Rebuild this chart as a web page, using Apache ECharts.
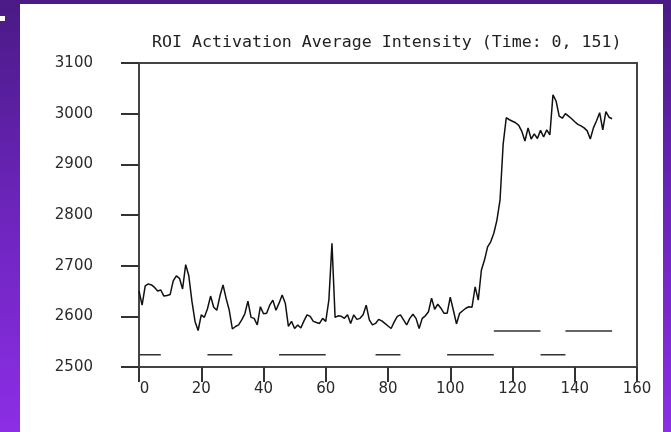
<!DOCTYPE html>
<html>
<head>
<meta charset="utf-8">
<script src="https://cdn.jsdelivr.net/npm/echarts@6/dist/echarts.min.js"></script>
<style>
  html, body { margin: 0; padding: 0; width: 671px; height: 432px; overflow: hidden; }
  body { background: linear-gradient(180deg, #4a1a86 0%, #6a24b8 45%, #8c2ee6 100%); position: relative; }
  #panel { position: absolute; left: 20px; top: 4px; width: 643px; height: 428px; background: #ffffff; }
  #dot { position: absolute; left: 0px; top: 16px; width: 5px; height: 5px; background: #ffffff; }
  #chart { position: absolute; left: 0; top: 0; width: 671px; height: 432px; }
</style>
</head>
<body>
<div id="panel"></div>
<div id="dot"></div>
<div id="chart"></div>
<script>
// ---- data ----
const titleText = 'ROI Activation Average Intensity (Time: 0, 151)';
const xTicks = [0, 20, 40, 60, 80, 100, 120, 140, 160];
const yTicks = [2500, 2600, 2700, 2800, 2900, 3000, 3100];
const startTime = 0;
const intensity = [
  2650, 2622, 2660, 2664, 2662, 2657, 2650, 2652, 2640, 2641,
  2643, 2670, 2680, 2675, 2654, 2702, 2680, 2630, 2590, 2572,
  2603, 2598, 2615, 2640, 2618, 2612, 2640, 2662, 2635, 2612,
  2575, 2580, 2583, 2593, 2605, 2630, 2598, 2596, 2583, 2619,
  2605, 2606, 2622, 2632, 2612, 2626, 2642, 2626, 2580, 2590,
  2576, 2583, 2577, 2591, 2603, 2600, 2590, 2588, 2586, 2596,
  2590, 2632, 2744, 2598, 2601, 2600, 2596, 2603, 2586, 2603,
  2594, 2596, 2603, 2622, 2593, 2583, 2586, 2594, 2591, 2586,
  2581, 2576, 2589, 2600, 2603, 2593, 2583, 2596, 2604, 2596,
  2576, 2596, 2601, 2609, 2636, 2614, 2624, 2616, 2606, 2606,
  2638, 2612, 2585, 2606, 2611, 2616, 2619, 2618, 2658, 2632,
  2691, 2711, 2737, 2747, 2764, 2790, 2830, 2940, 2992, 2988,
  2985, 2982, 2977, 2965, 2946, 2972, 2950, 2960, 2951, 2967,
  2954, 2968, 2958, 3037, 3025, 2995, 2991, 3000, 2995, 2990,
  2984, 2979, 2976, 2972, 2966, 2950, 2972, 2986, 3002, 2968,
  3004, 2993, 2990
];
const condALevel = 2524;
const condABlocks = [[0, 7], [22, 30], [45, 60], [76, 84], [99, 114], [129, 137]];
const condBLevel = 2571;
const condBBlocks = [[114, 129], [137, 152]];

// ---- build series data ----
const lineData = intensity.map((v, i) => [startTime + i, v]);
function blocksToData(blocks, level) {
  const out = [];
  blocks.forEach((b, k) => {
    if (k > 0) out.push([null, null]);
    out.push([b[0], level]);
    out.push([b[1], level]);
  });
  return out;
}

const chart = echarts.init(document.getElementById('chart'), null, { renderer: 'canvas' });
const labelFont = { fontFamily: 'DejaVu Sans', fontSize: 15, color: '#2a2a2a' };
chart.setOption({
  animation: false,
  backgroundColor: 'transparent',
  title: {
    text: titleText,
    left: 147,
    top: 29,
    textStyle: { fontFamily: 'DejaVu Sans Mono', fontSize: 16.6, fontWeight: 'normal', color: '#222' }
  },
  grid: {
    left: 139, top: 63, right: 34, bottom: 65,
    show: true, borderColor: '#444', borderWidth: 2, backgroundColor: 'transparent'
  },
  xAxis: {
    type: 'value', min: xTicks[0], max: xTicks[xTicks.length - 1], interval: xTicks[1] - xTicks[0],
    axisLine: { show: true, onZero: false, lineStyle: { color: '#444', width: 2 } },
    axisTick: { show: true, inside: false, length: 15, lineStyle: { color: '#333', width: 2 } },
    splitLine: { show: false },
    axisLabel: Object.assign({ margin: 15, showMinLabel: true, showMaxLabel: true,
      formatter: v => v === 0 ? '{z|0}' : String(v),
      rich: { z: Object.assign({ padding: [0, 0, 0, 11] }, labelFont) } }, labelFont)
  },
  yAxis: {
    type: 'value', min: yTicks[0], max: yTicks[yTicks.length - 1], interval: yTicks[1] - yTicks[0],
    axisLine: { show: true, onZero: false, lineStyle: { color: '#444', width: 2 } },
    axisTick: { show: true, inside: false, length: 18, lineStyle: { color: '#333', width: 2 } },
    splitLine: { show: false },
    axisLabel: Object.assign({ margin: 46, showMinLabel: true, showMaxLabel: true, padding: [0, 0, 4, 0],
      formatter: v => String(v) }, labelFont)
  },
  series: [
    {
      type: 'line', data: lineData, showSymbol: false, symbol: 'none',
      lineStyle: { color: '#111', width: 1.5 }, z: 3
    },
    {
      type: 'line', data: blocksToData(condABlocks, condALevel), showSymbol: false, symbol: 'none',
      connectNulls: false, lineStyle: { color: '#333', width: 1.5 }
    },
    {
      type: 'line', data: blocksToData(condBBlocks, condBLevel), showSymbol: false, symbol: 'none',
      connectNulls: false, lineStyle: { color: '#333', width: 1.5 }
    }
  ]
});
</script>
</body>
</html>
